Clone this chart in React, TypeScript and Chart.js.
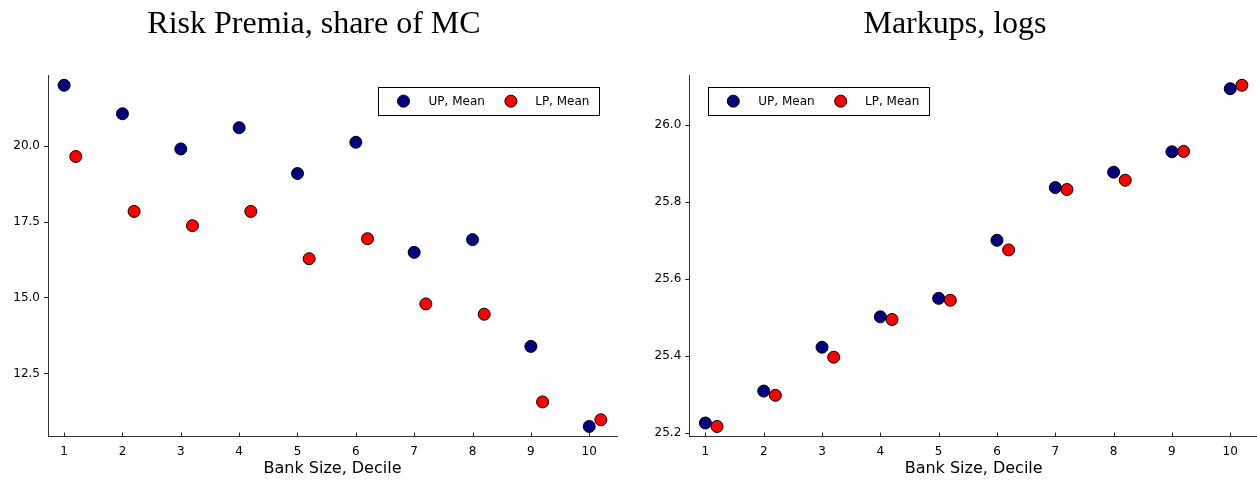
import React, { useEffect, useRef } from 'react';
import { Chart, registerables } from 'chart.js';

Chart.register(...registerables);

// ---- data ----
const DECILES = [1, 2, 3, 4, 5, 6, 7, 8, 9, 10];
const LP_SHIFT = 0.2;
const RISK_UP = [22.01, 21.07, 19.91, 20.61, 19.1, 20.13, 16.5, 16.92, 13.4, 10.76];
const RISK_LP = [19.66, 17.85, 17.38, 17.85, 16.29, 16.95, 14.8, 14.46, 11.57, 10.98];
const MARKUP_UP = [25.226, 25.309, 25.423, 25.502, 25.55, 25.701, 25.838, 25.878, 25.931, 26.095];
const MARKUP_LP = [25.217, 25.298, 25.397, 25.495, 25.545, 25.676, 25.833, 25.857, 25.932, 26.104];
const RISK_TICKS = [12.5, 15, 17.5, 20];
const MARKUP_TICKS = [25.2, 25.4, 25.6, 25.8, 26.0];
const X_TICKS = DECILES;
const SERIES_NAMES = ['UP, Mean', 'LP, Mean'];
const SERIES_COLORS = ['#000080', '#ff0000'];
const X_LABEL = 'Bank Size, Decile';
const TITLES = ['Risk Premia, share of MC', 'Markups, logs'];

const SANS = '"DejaVu Sans", sans-serif';
const SERIF = '"Liberation Serif", "DejaVu Serif", serif';

function widen(vals: number[]) {
  const lo = Math.min(...vals);
  const hi = Math.max(...vals);
  const d = (hi - lo) * 0.03;
  return [lo - d, hi + d];
}

type Cfg = {
  title: string;
  titleX: number;
  up: number[];
  lp: number[];
  yTicks: number[];
  axisWidth: number;
  padRight: number;
  legendSide: 'left' | 'right';
};

function makeChart(canvas: HTMLCanvasElement, cfg: Cfg) {
  const lpX = DECILES.map((d) => d + LP_SHIFT);
  const [xmin, xmax] = widen([...DECILES, ...lpX]);
  const [ymin, ymax] = widen([...cfg.up, ...cfg.lp]);

  const titlePlugin = {
    id: 'serifTitle',
    afterDraw(chart: any) {
      const ctx = chart.ctx;
      ctx.save();
      ctx.font = `32px ${SERIF}`;
      ctx.fillStyle = '#000';
      ctx.textAlign = 'center';
      ctx.textBaseline = 'alphabetic';
      ctx.fillText(cfg.title, cfg.titleX, 33);
      ctx.restore();
    },
  };

  const innerTicks = {
    id: 'innerTicks',
    afterDraw(chart: any) {
      const ctx = chart.ctx;
      const xs = chart.scales.x;
      const b = chart.chartArea.bottom;
      ctx.save();
      ctx.strokeStyle = '#222';
      ctx.lineWidth = 1;
      xs.ticks.forEach((t: any) => {
        const px = Math.round(xs.getPixelForValue(t.value)) + 0.5;
        ctx.beginPath();
        ctx.moveTo(px, b);
        ctx.lineTo(px, b - 4);
        ctx.stroke();
      });
      ctx.restore();
    },
  };

  const legendPlugin = {
    id: 'boxLegend',
    afterDraw(chart: any) {
      const ctx = chart.ctx;
      const ca = chart.chartArea;
      const w = 220.6;
      const h = 27.7;
      const x0 = cfg.legendSide === 'right' ? ca.right - 18.5 - w : ca.left + 18.4;
      const y0 = ca.top + 12.3;
      ctx.save();
      ctx.fillStyle = '#fff';
      ctx.fillRect(x0, y0, w, h);
      ctx.strokeStyle = '#000';
      ctx.lineWidth = 1;
      ctx.strokeRect(Math.round(x0) + 0.5, Math.round(y0) + 0.5, Math.round(w), Math.round(h));
      const cy = y0 + h / 2;
      const markerX = [25.6, 133];
      const textX = [50.6, 157.3];
      ctx.font = `12px ${SANS}`;
      ctx.textAlign = 'left';
      ctx.textBaseline = 'middle';
      SERIES_NAMES.forEach((name, i) => {
        ctx.beginPath();
        ctx.arc(x0 + markerX[i], cy, 6, 0, Math.PI * 2);
        ctx.fillStyle = SERIES_COLORS[i];
        ctx.fill();
        ctx.strokeStyle = '#000';
        ctx.stroke();
        ctx.fillStyle = '#000';
        ctx.fillText(name, x0 + textX[i], cy + 0.5);
      });
      ctx.restore();
    },
  };

  const ds = (name: string, xs: number[], ys: number[], color: string) => ({
    label: name,
    data: xs.map((x, i) => ({ x, y: ys[i] })),
    showLine: false,
    pointRadius: 6,
    pointHoverRadius: 6,
    pointBackgroundColor: color,
    pointBorderColor: '#000',
    pointBorderWidth: 1,
    backgroundColor: color,
    borderColor: '#000',
  });

  return new Chart(canvas, {
    type: 'scatter',
    data: {
      datasets: [
        ds(SERIES_NAMES[0], DECILES, cfg.up, SERIES_COLORS[0]),
        ds(SERIES_NAMES[1], lpX, cfg.lp, SERIES_COLORS[1]),
      ],
    },
    options: {
      responsive: false,
      animation: false,
      devicePixelRatio: 1,
      layout: { padding: { left: 0, right: cfg.padRight, top: 75, bottom: 0 } },
      plugins: { legend: { display: false }, tooltip: { enabled: false }, title: { display: false } },
      scales: {
        x: {
          type: 'linear',
          min: xmin,
          max: xmax,
          afterBuildTicks: (s: any) => {
            s.ticks = X_TICKS.map((v) => ({ value: v }));
          },
          afterFit: (s: any) => {
            s.height = 46.3;
            s.paddingLeft = 0;
            s.paddingRight = 0;
          },
          grid: { display: true, drawOnChartArea: false, drawTicks: false, tickLength: 0 },
          border: { display: true, color: '#333', width: 1 },
          ticks: {
            padding: 8,
            color: '#000',
            font: { family: SANS, size: 12 },
            maxRotation: 0,
            autoSkip: false,
            callback: (v: any) => String(v),
          },
          title: {
            display: true,
            text: X_LABEL,
            color: '#000',
            font: { family: SANS, size: 16 },
            padding: { top: 0, bottom: 5 },
          },
        },
        y: {
          type: 'linear',
          min: ymin,
          max: ymax,
          afterBuildTicks: (s: any) => {
            s.ticks = cfg.yTicks.map((v) => ({ value: v }));
          },
          afterFit: (s: any) => {
            s.width = cfg.axisWidth;
            s.paddingTop = 0;
            s.paddingBottom = 0;
          },
          grid: { display: true, drawOnChartArea: false, drawTicks: true, tickLength: 4, color: '#222' },
          border: { display: true, color: '#333', width: 1 },
          ticks: {
            padding: 4,
            color: '#000',
            font: { family: SANS, size: 12 },
            autoSkip: false,
            callback: (v: any) => Number(v).toFixed(1),
          },
        },
      },
    },
    plugins: [titlePlugin, innerTicks, legendPlugin],
  } as any);
}

export default function App() {
  const leftRef = useRef<HTMLCanvasElement>(null);
  const rightRef = useRef<HTMLCanvasElement>(null);

  useEffect(() => {
    const a = makeChart(leftRef.current!, {
      title: TITLES[0],
      titleX: 314,
      up: RISK_UP,
      lp: RISK_LP,
      yTicks: RISK_TICKS,
      axisWidth: 48,
      padRight: 13,
      legendSide: 'right',
    });
    const b = makeChart(rightRef.current!, {
      title: TITLES[1],
      titleX: 325,
      up: MARKUP_UP,
      lp: MARKUP_LP,
      yTicks: MARKUP_TICKS,
      axisWidth: 59.3,
      padRight: 13,
      legendSide: 'left',
    });
    return () => {
      a.destroy();
      b.destroy();
    };
  }, []);

  return (
    <div
      style={{
        position: 'absolute',
        left: 0,
        top: 0,
        width: 1257,
        height: 483,
        background: '#fff',
        overflow: 'hidden',
      }}
    >
      <canvas ref={leftRef} width={630} height={483} style={{ position: 'absolute', left: 0, top: 0 }} />
      <canvas ref={rightRef} width={641} height={483} style={{ position: 'absolute', left: 630, top: 0 }} />
    </div>
  );
}
